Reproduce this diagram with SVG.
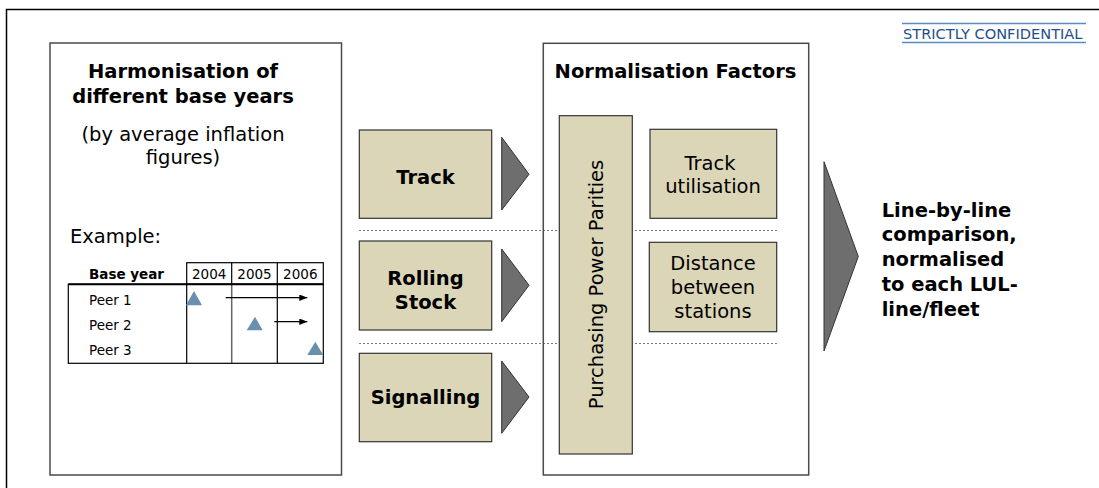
<svg xmlns="http://www.w3.org/2000/svg" width="1099" height="488" viewBox="0 0 1099 488">
<style>
text{font-family:"DejaVu Sans","Verdana",sans-serif;fill:#000}
.b{font-weight:bold}
.big{font-size:19.5px}
.sm{font-size:13.5px}
.c{text-anchor:middle}
.panel{fill:#fff;stroke:#4a4a4a;stroke-width:1.5}
.beige{fill:#dcd6b9;stroke:#333;stroke-width:1.2}
.chev{fill:#6e6e6e;stroke:#333;stroke-width:1}
.dash{stroke:#777;stroke-width:1;stroke-dasharray:2 2;fill:none}
.tri{fill:#6b8fae}
.tl{stroke:#000;stroke-width:1.2;fill:none}
</style>
<defs>
<marker id="ah" viewBox="0 0 10 8" refX="10" refY="4" markerWidth="8" markerHeight="6.4" markerUnits="userSpaceOnUse" orient="auto">
<path d="M0,0 L10,4 L0,8 Z" fill="#000"/>
</marker>
</defs>
<rect width="1099" height="488" fill="#fff"/>
<g id="frame">
<path d="M6.5,488 V9.5 H1099" fill="none" stroke="#000" stroke-width="1.5"/>
</g>
<g id="confidential">
<line x1="902" y1="23.5" x2="1086" y2="23.5" stroke="#5b8bc0" stroke-width="1.5"/>
<line x1="902" y1="42.5" x2="1086" y2="42.5" stroke="#5b8bc0" stroke-width="1.5"/>
<text x="903" y="39" style="font-size:14.6px;fill:#1f4e8c">STRICTLY CONFIDENTIAL</text>
</g>
<g id="connectors">
<line class="dash" x1="359" y1="230.5" x2="777" y2="230.5"/>
<line class="dash" x1="359" y1="343.5" x2="777" y2="343.5"/>
</g>
<g id="harmonisation">
<rect class="panel" x="50" y="43" width="291.5" height="432"/>
<text class="b big c" x="183" y="78">Harmonisation of</text>
<text class="b big c" x="183" y="102.5">different base years</text>
<text class="big c" x="183" y="141">(by average inflation</text>
<text class="big c" x="183" y="164">figures)</text>
<text class="big" x="70" y="243">Example:</text>
<g id="table">
<rect x="186.7" y="262.7" width="136.6" height="21.6" fill="none" stroke="#000" stroke-width="1.2"/>
<line class="tl" x1="231.7" y1="262.7" x2="231.7" y2="284.3"/>
<line class="tl" x1="277.3" y1="262.7" x2="277.3" y2="363.3"/>
<line x1="231.7" y1="284.3" x2="231.7" y2="363.3" stroke="#666" stroke-width="1.5"/>
<rect x="68.3" y="284.3" width="255" height="79" fill="none" stroke="#000" stroke-width="1.2"/>
<line x1="68.3" y1="284.3" x2="323.3" y2="284.3" stroke="#000" stroke-width="2"/>
<line class="tl" x1="186.7" y1="284.3" x2="186.7" y2="363.3"/>
<text class="b sm" x="89" y="279">Base year</text>
<text class="sm c" x="209.2" y="279">2004</text>
<text class="sm c" x="254.5" y="279">2005</text>
<text class="sm c" x="300.3" y="279">2006</text>
<text class="sm" x="89" y="305">Peer 1</text>
<text class="sm" x="89" y="330">Peer 2</text>
<text class="sm" x="89" y="354.5">Peer 3</text>
<polygon class="tri" points="194,291 186,305.3 202,305.3"/>
<polygon class="tri" points="255,316.7 246.7,330.3 262.7,330.3"/>
<polygon class="tri" points="315.3,341.7 307.3,355 323.3,355"/>
<line x1="225.7" y1="297.7" x2="307.3" y2="297.7" stroke="#000" stroke-width="1.2" marker-end="url(#ah)"/>
<line x1="274.3" y1="321.7" x2="307.3" y2="321.7" stroke="#000" stroke-width="1.2" marker-end="url(#ah)"/>
</g>
</g>
<g id="track">
<rect class="beige" x="359.3" y="130" width="132.4" height="88.3"/>
<text class="b big c" x="425.5" y="184">Track</text>
<polygon class="chev" points="501.7,137.3 529,174.3 501.7,210"/>
</g>
<g id="rolling-stock">
<rect class="beige" x="359.3" y="241" width="132.4" height="89"/>
<text class="b big c" x="425.5" y="285">Rolling</text>
<text class="b big c" x="425.5" y="308.5">Stock</text>
<polygon class="chev" points="501.7,249 529,285.3 501.7,321.7"/>
</g>
<g id="signalling">
<rect class="beige" x="359.3" y="353.3" width="132.4" height="88.4"/>
<text class="b big c" x="425.5" y="403.5">Signalling</text>
<polygon class="chev" points="501.7,361 529,397 501.7,433.3"/>
</g>
<g id="normalisation">
<rect x="543.3" y="43.3" width="265.4" height="431.7" fill="none" stroke="#4a4a4a" stroke-width="1.5"/>
<text class="b big c" x="675.5" y="78">Normalisation Factors</text>
</g>
<g id="ppp">
<rect class="beige" x="559.3" y="115.7" width="73" height="338.3"/>
<text class="big c" transform="translate(602.5,284.5) rotate(-90)">Purchasing Power Parities</text>
</g>
<g id="track-utilisation">
<rect class="beige" x="650" y="129.3" width="126.7" height="89"/>
<text class="big c" x="710" y="169.5">Track</text>
<text class="big c" x="713" y="192.7">utilisation</text>
</g>
<g id="distance">
<rect class="beige" x="649.3" y="242.3" width="127.4" height="89.4"/>
<text class="big c" x="713" y="270">Distance</text>
<text class="big c" x="713" y="293.5">between</text>
<text class="big c" x="713" y="317.5">stations</text>
</g>
<g id="result">
<polygon class="chev" points="824,161.7 858.3,256.5 824,351"/>
<text class="b big" x="881.7" y="216.7">Line-by-line</text>
<text class="b big" x="881.7" y="241.3">comparison,</text>
<text class="b big" x="881.7" y="266">normalised</text>
<text class="b big" x="881.7" y="290.7">to each LUL-</text>
<text class="b big" x="881.7" y="315.7">line/fleet</text>
</g>
</svg>
